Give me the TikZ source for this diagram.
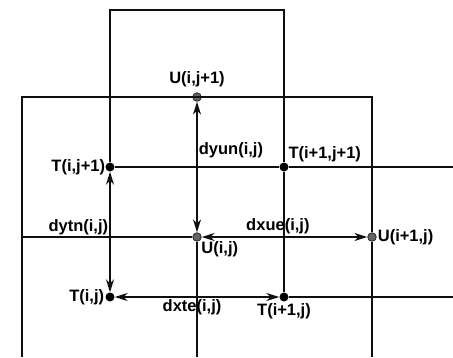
\documentclass[tikz,border=0pt]{standalone}
\usepackage{fontspec}
\setmainfont{Liberation Sans}
\usepackage{xcolor}
\usepackage{tikz}
\usetikzlibrary{arrows.meta, positioning}
\definecolor{gridline}{RGB}{15,15,15}
\definecolor{udotfill}{RGB}{100,100,100}
\tikzset{
    tdot/.style={
        circle,
        fill=black,
        inner sep=0pt,
        minimum size=9pt
    },
    udot/.style={
        circle,
        draw=black!85,
        line width=0.8pt,
        fill=udotfill,
        inner sep=0pt,
        minimum size=8.5pt
    },
    lbl/.style={
        font=\fontsize{16.5}{16.5}\selectfont\bfseries,
        inner sep=1pt
    },
    cell/.style={line width=1.8pt, draw=gridline},
    dim/.style={{Stealth[length=13pt, width=8pt]}-{Stealth[length=13pt, width=8pt]}, line width=1.8pt, draw=gridline}
}

\begin{document}
\begin{tikzpicture}[x=1pt, y=-1pt]
\useasboundingbox (0,0) rectangle (453,357);

\node[tdot] (Tij1) at (110,167) {};
\node[tdot] (Ti1j1) at (284,167) {};
\node[tdot] (Tij) at (110,297) {};
\node[tdot] (Ti1j) at (284,297) {};
\node[udot] (Uij1) at (197,97) {};
\node[udot] (Uij) at (197,237) {};
\node[udot] (Ui1j) at (372,237) {};

\coordinate (rowA) at (453,167);
\coordinate (rowB) at (453,297);
\coordinate (rowU) at (22,237);
\coordinate (colU) at (197,357);

% grid cells
\draw[cell] (Tij1) -- (110,10) -- (284,10) -- (Ti1j1) -- (Ti1j);
\draw[cell] (22,357) -- (22,97) -- (372,97) -- (Ui1j) -- (372,357);
\draw[cell] (Tij1) -- (Ti1j1) -- (rowA);
\draw[cell] (rowU) -- (Uij);
\draw[cell] (Ti1j) -- (rowB);
\draw[cell] (Uij) -- (colU);

% spacings
\draw[dim] (Tij1) -- node[lbl, pos=0.46, anchor=east] {dytn(i,j)} (Tij);
\draw[dim] (Uij1) -- node[lbl, pos=0.37, anchor=west] {dyun(i,j)} (Uij);
\draw[dim] (Uij) -- node[lbl, pos=0.46, anchor=south, inner sep=2pt] {dxue(i,j)} (Ui1j);
\draw[dim] (Tij) -- node[lbl, pos=0.47, anchor=north, inner sep=2pt] {dxte(i,j)} (Ti1j);

\node[lbl, above=4pt of Uij1] {U(i,j+1)};
\node[lbl, left=-1pt of Tij1] {T(i,j+1)};
\node[lbl, above right=1pt and 0pt of Ti1j1] {T(i+1,j+1)};
\node[lbl, below right=0pt and 0pt of Uij] {U(i,j)};
\node[lbl, right=0pt of Ui1j] {U(i+1,j)};
\node[lbl, left=0pt of Tij] {T(i,j)};
\node[lbl, below=1pt of Ti1j] {T(i+1,j)};

\end{tikzpicture}
\end{document}
